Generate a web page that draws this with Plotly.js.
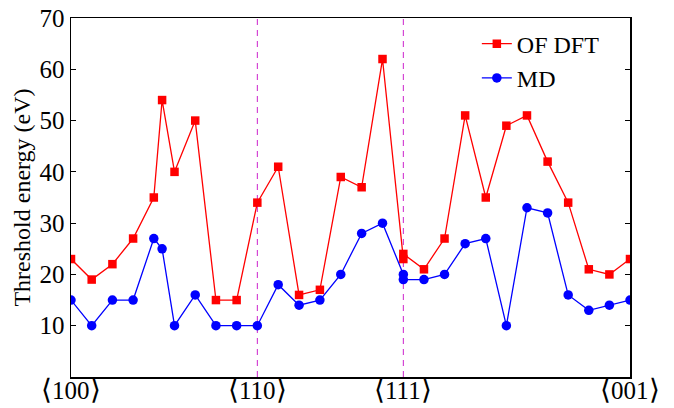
<!DOCTYPE html>
<html>
<head>
<meta charset="utf-8">
<script src="https://cdn.plot.ly/plotly-3.0.1.min.js"></script>
<style>html,body{margin:0;padding:0;background:#fff;}#chart{width:674px;height:408px;}</style>
</head>
<body>
<div id="chart"></div>
<script>
// Path position along the directions, in degrees from <100>
var pathAngle = [0, 5, 10, 15, 20, 22, 25, 30, 35, 40, 45,
  50.04, 55.08, 60.11, 65.15, 70.19, 75.23, 80.26,
  80.26, 85.24, 90.21, 95.19, 100.17, 105.14, 110.12, 115.1, 120.07, 125.05, 130.02, 135];
var ofdft = [23, 19, 22, 27, 35, 54, 40, 50, 15, 15, 34,
  41, 16, 17, 39, 37, 62, 23,
  24, 21, 27, 51, 35, 49, 51, 42, 34, 21, 20, 23];
var md = [15, 10, 15, 15, 27, 25, 10, 16, 10, 10, 10,
  18, 14, 15, 20, 28, 30, 20,
  19, 19, 20, 26, 27, 10, 33, 32, 16, 13, 14, 15];
var dirTicks = [0, 45, 80.26, 135];
var dirNames = ['100', '110', '111', '001'];
var yTicks = [10, 20, 30, 40, 50, 60, 70];

function mkFont(sz) { return {family: 'Liberation Serif', size: sz, color: '#000'}; }
var br = function (c) { return '<span style="font-size:28px">' + c + '</span>'; };

var traces = [
  {x: pathAngle, y: ofdft, name: 'OF DFT', mode: 'lines+markers', type: 'scatter',
   line: {color: '#ff0000', width: 1.3},
   marker: {symbol: 'square', size: 8.5, color: '#ff0000'}},
  {x: pathAngle, y: md, name: 'MD', mode: 'lines+markers', type: 'scatter',
   line: {color: '#0000ff', width: 1.3},
   marker: {symbol: 'circle', size: 9.5, color: '#0000ff'}}
];

var shapes = [dirTicks[1], dirTicks[2]].map(function (v) {
  return {type: 'line', xref: 'x', yref: 'paper', x0: v, x1: v, y0: 0, y1: 1,
    line: {color: '#cc22cc', width: 1, dash: '6px,5px'}, layer: 'below'};
});

var labels = dirTicks.map(function (v, i) {
  return {xref: 'x', yref: 'paper', x: v, y: 0, xanchor: 'center', yanchor: 'top',
    showarrow: false, yshift: 4, borderpad: 0,
    text: br('\u27E8') + dirNames[i] + br('\u27E9'), font: mkFont(25)};
});

var layout = {
  width: 674, height: 408,
  margin: {l: 71, r: 44, t: 18, b: 31},
  font: mkFont(24),
  showlegend: true,
  legend: {x: 0.726, y: 0.99, xanchor: 'left', yanchor: 'top', bgcolor: 'rgba(0,0,0,0)'},
  xaxis: {range: [0, 135], showticklabels: false,
    ticks: '', showgrid: false, zeroline: false, showline: true, linecolor: '#000',
    linewidth: 1.5, mirror: true},
  yaxis: {range: [0, 70], tickvals: yTicks, ticks: 'inside',
    ticklen: 5, tickwidth: 1, tickcolor: '#000', showgrid: false, zeroline: false,
    showline: true, linecolor: '#000', linewidth: 1.5, mirror: 'ticks', tickfont: mkFont(25),
    title: {text: 'Threshold energy (eV)', font: mkFont(24), standoff: 2}},
  shapes: shapes,
  annotations: labels
};

Plotly.newPlot('chart', traces, layout, {displayModeBar: false, staticPlot: true});
</script>
</body>
</html>
